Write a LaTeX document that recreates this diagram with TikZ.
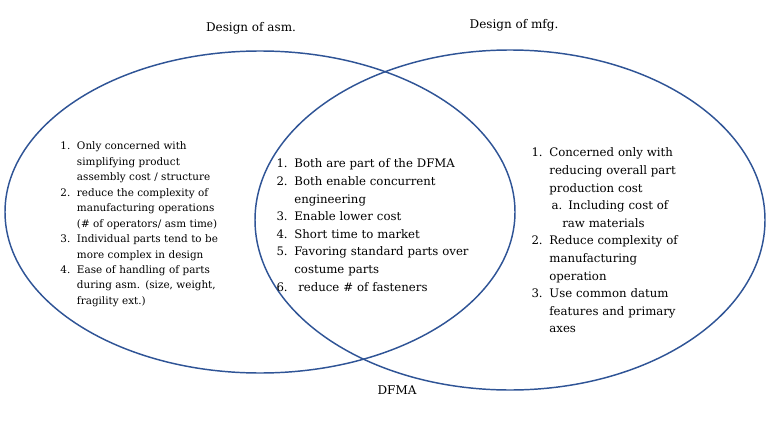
\documentclass[tikz,border=0pt]{standalone}
\usepackage{fontspec}
\setmainfont{DejaVu Serif}
\usepackage{enumitem}
\usetikzlibrary{positioning, shapes.geometric}
\definecolor{ringblue}{HTML}{2F5496}
\tikzset{
  ring/.style = {draw=ringblue, line width=1.1pt, ellipse, inner sep=0pt},
  title/.style = {font=\fontsize{9}{11}\selectfont},
  list/.style = {align=left, anchor=north west, inner sep=0pt, text width=200pt}
}
\setlist[enumerate]{leftmargin=1.8em, itemsep=0pt, topsep=0pt, parsep=0pt, partopsep=0pt}
\begin{document}
\begin{tikzpicture}[x=0.75pt, y=-0.75pt]
        \useasboundingbox (0,0) rectangle (775,439);
        \node (asm) at (260,212) [ring, minimum width=382.5pt, minimum height=241.5pt] {};
        \node (mfg) at (510,220) [ring, minimum width=382.5pt, minimum height=255pt] {};
        \node (tasm) at (251,28) [title] {Design of asm.};
        \node (tmfg) at (514,25) [title] {Design of mfg.};
        \node (tdfma) at (397,390) [title] {DFMA};
        \node (left) at (58,134) [list, font=\fontsize{7.8}{11.6}\selectfont] {%
          \begin{enumerate}
            \item Only concerned with\\ simplifying product\\ assembly cost / structure
            \item reduce the complexity of\\ manufacturing operations\\ (\# of operators/ asm time)
            \item Individual parts tend to be\\ more complex in design
            \item Ease of handling of parts\\ during asm. (size, weight,\\ fragility ext.)
          \end{enumerate}};
        \node (mid) at (273,150) [list, font=\fontsize{8.8}{13.2}\selectfont] {%
          \begin{enumerate}
            \item Both are part of the DFMA
            \item Both enable concurrent\\ engineering
            \item Enable lower cost
            \item Short time to market
            \item Favoring standard parts over\\ costume parts
            \item \ reduce \# of fasteners
          \end{enumerate}};
        \node (right) at (528,139) [list, font=\fontsize{8.8}{13.2}\selectfont] {%
          \begin{enumerate}
            \item Concerned only with\\ reducing overall part\\ production cost\\
              \hspace*{0.2em}a. Including cost of\\ \hspace*{1.1em}raw materials
            \item Reduce complexity of\\ manufacturing\\ operation
            \item Use common datum\\ features and primary\\ axes
          \end{enumerate}};
    \end{tikzpicture}
\end{document}
